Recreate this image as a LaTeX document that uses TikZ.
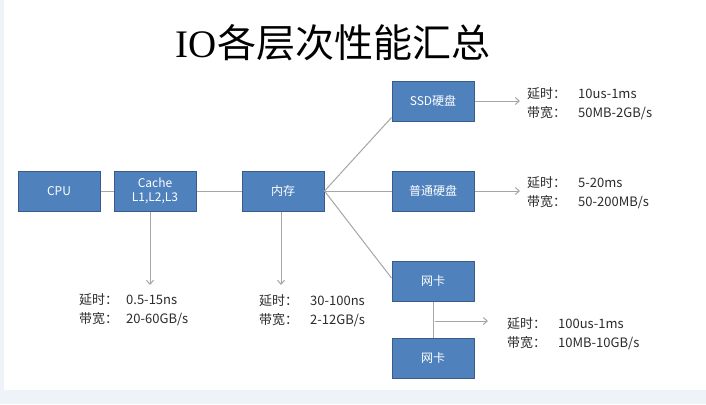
\documentclass[tikz,border=0pt]{standalone}
\usepackage{fontspec}
\setmainfont{Noto Sans CJK SC}
\newfontfamily\titlecjk{Noto Sans CJK SC}
\newfontfamily\titlelat{Liberation Serif}
\usetikzlibrary{arrows.meta,calc}
\definecolor{boxfill}{HTML}{4F81BD}
\definecolor{boxline}{HTML}{385D8A}
\definecolor{conn}{HTML}{A6A6A6}
\definecolor{txt}{HTML}{2B2B2B}
\definecolor{pale}{HTML}{EEF3FA}
\tikzset{
  blk/.style={draw=boxline, line width=1pt, fill=boxfill, text=white,
    minimum width=82pt, minimum height=40pt, inner sep=0pt, align=center,
    font=\fontsize{12}{14}\selectfont},
  lbl/.style={anchor=west, align=left, text=txt, inner sep=0pt,
    font=\fontsize{13}{19}\selectfont},
  ln/.style={draw=conn, line width=1pt},
  arr/.style={ln, -{Straight Barb[length=4pt,width=7pt]}},
}
\begin{document}
\begin{tikzpicture}[x=1pt,y=-1pt]
\fill[white] (0,0) rectangle (706,404);
\fill[pale] (0,390) rectangle (706,404);
\fill[pale] (0,0) rectangle (4,404);
\useasboundingbox (0,0) rectangle (706,404);

\node[anchor=center, inner sep=0pt] (title) at (333,43)
  {\fontsize{39}{42}\selectfont\titlelat IO\titlecjk 各层次性能汇总};

\node[blk] (cpu) at (59,191) {CPU};
\node[blk] (cache) at (155,191) {Cache\\L1,L2,L3};
\node[blk] (mem) at (283,191) {内存};
\node[blk] (ssd) at (433,101) {SSD硬盘};
\node[blk] (hdd) at (433,191) {普通硬盘};
\node[blk] (nic1) at (433,281) {网卡};
\node[blk] (nic2) at (433,358) {网卡};

\draw[ln] (cpu) -- (cache);
\draw[ln] (cache) -- (mem);
\draw[ln] (mem.east) -- ([yshift=4pt]ssd.south west);
\draw[ln] (mem.east) -- (hdd.west);
\draw[ln] (mem.east) -- ([yshift=3pt]nic1.west);
\draw[ln] (nic1) -- (nic2);

\coordinate (cacheEnd) at (150,285);
\coordinate (memEnd) at (281,285);
\coordinate (ssdEnd) at (520,101);
\coordinate (hddEnd) at (520,191);
\coordinate (nicStart) at (435,321);
\coordinate (nicEnd) at (488,321);

\draw[arr] (cache.south -| cacheEnd) -- (cacheEnd);
\draw[arr] (mem.south -| memEnd) -- (memEnd);
\draw[arr] (ssd.east) -- (ssdEnd);
\draw[arr] (hdd.east) -- (hddEnd);
\draw[arr] (nicStart) -- (nicEnd);

\node[lbl] (ssdl) at (527,104) {延时：\hspace{12pt}10us-1ms\\带宽：\hspace{12pt}50MB-2GB/s};
\node[lbl] (hddl) at (527,193) {延时：\hspace{12pt}5-20ms\\带宽：\hspace{12pt}50-200MB/s};
\node[lbl] (cachel) at (79,310) {延时：\hspace{8pt}0.5-15ns\\带宽：\hspace{8pt}20-60GB/s};
\node[lbl] (meml) at (259,311) {延时：\hspace{12pt}30-100ns\\带宽：\hspace{12pt}2-12GB/s};
\node[lbl] (nicl) at (507,334) {延时：\hspace{12pt}100us-1ms\\带宽：\hspace{12pt}10MB-10GB/s};
\end{tikzpicture}
\end{document}
